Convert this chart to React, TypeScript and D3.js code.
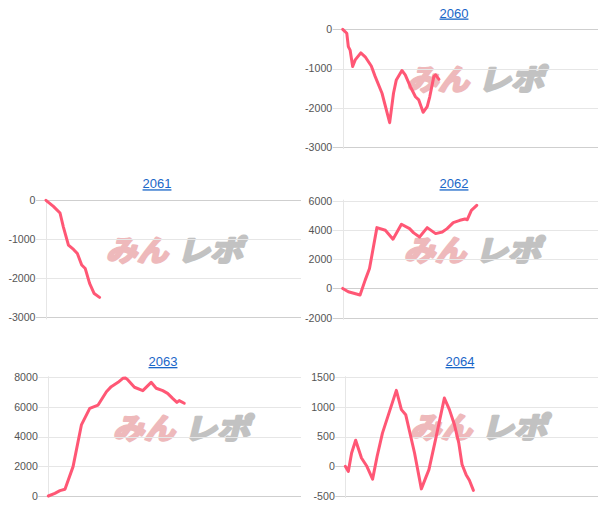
import { useRef, useEffect } from 'react';
import * as d3 from 'd3';

// machine numbers
const machines = ['2060', '2061', '2062', '2063', '2064'];

// progress through the day (share of the x axis) and coin difference
const x2060 = [0, 1.6, 2.2, 2.9, 3.9, 4.9, 7.1, 8.8, 11.2, 12.7, 15.4, 18.4, 19.9, 21.0, 23.2, 24.5, 26.5, 28.5, 29.8, 31.5, 33.1, 34.1, 35.7, 36.4, 37.7];
const y2060 = [0, -100, -440, -530, -950, -780, -600, -700, -935, -1200, -1630, -2380, -1630, -1290, -1050, -1160, -1460, -1720, -1800, -2115, -1970, -1720, -1200, -1160, -1275];

const x2061 = [0, 2.9, 5.5, 6.8, 8.8, 10.8, 12.3, 14.0, 15.4, 17.1, 18.9, 21.0];
const y2061 = [0, -155, -325, -680, -1150, -1260, -1365, -1660, -1750, -2130, -2390, -2490];

const x2062 = [0, 2.2, 6.8, 8.8, 10.5, 13.4, 16.7, 19.7, 23.0, 26.2, 27.8, 30.1, 33.1, 36.4, 39.0, 40.9, 43.3, 45.9, 47.9, 48.8, 50.4, 52.5];
const y2062 = [0, -230, -450, 570, 1360, 4160, 3980, 3370, 4390, 4090, 3800, 3520, 4160, 3750, 3860, 4090, 4500, 4660, 4750, 4700, 5340, 5680];

const x2063 = [0, 2.6, 4.6, 6.6, 9.8, 13.1, 16.4, 19.7, 23.0, 24.9, 27.6, 29.5, 30.6, 31.5, 34.1, 37.4, 40.7, 42.7, 45.3, 47.2, 49.2, 50.9, 51.8, 53.8];
const y2063 = [0, 180, 360, 450, 1980, 4790, 5910, 6130, 7030, 7370, 7660, 7930, 7950, 7820, 7330, 7100, 7660, 7260, 7100, 6920, 6580, 6310, 6430, 6250];

const x2064 = [0, 1.2, 2.5, 4.1, 6.4, 8.4, 10.8, 12.6, 14.7, 20.2, 22.2, 23.9, 27.4, 30.1, 31.8, 33.1, 35.7, 39.2, 41.2, 43.2, 44.9, 46.2, 47.8, 49.1, 50.7];
const y2064 = [0, -85, 225, 440, 140, 10, -215, 170, 560, 1280, 955, 870, 225, -380, -195, -55, 450, 1150, 955, 700, 395, 30, -140, -235, -405];

// y axis ticks per machine
const ticks2060 = [0, -1000, -2000, -3000];
const ticks2061 = [0, -1000, -2000, -3000];
const ticks2062 = [6000, 4000, 2000, 0, -2000];
const ticks2063 = [8000, 6000, 4000, 2000, 0];
const ticks2064 = [1500, 1000, 500, 0, -500];

const xs = [x2060, x2061, x2062, x2063, x2064];
const ys = [y2060, y2061, y2062, y2063, y2064];
const tickSets = [ticks2060, ticks2061, ticks2062, ticks2063, ticks2064];

// panel layout: plot box, title centre, watermark origin
const layout = [
  { left: 342.7, right: 598, top: 29.3, bottom: 147, titleX: 454, titleY: 17.5, wmX: 400, wmY: 90 },
  { left: 46, right: 301, top: 200.3, bottom: 317.3, titleX: 157, titleY: 188.3, wmX: 99, wmY: 261 },
  { left: 342.7, right: 598, top: 200.7, bottom: 317.7, titleX: 454, titleY: 188.3, wmX: 397, wmY: 261 },
  { left: 48.3, right: 301, top: 377.3, bottom: 496, titleX: 163, titleY: 366, wmX: 106, wmY: 439 },
  { left: 345.3, right: 598, top: 377.3, bottom: 496, titleX: 460, titleY: 366, wmX: 403, wmY: 438 },
];

const FONT = '"Liberation Sans", Arial, sans-serif';

export default function App() {
  const svgRef = useRef<SVGSVGElement>(null);

  useEffect(() => {
    const svg = d3.select(svgRef.current).html('');

    machines.forEach((name, i) => {
      const L = layout[i];
      const ticks = tickSets[i];
      const data = xs[i].map((x, j) => ({ x, y: ys[i][j] }));

      const x = d3.scaleLinear().domain([0, 100]).range([L.left, L.right]);
      const y = d3.scaleLinear()
        .domain([d3.min(ticks), d3.max(ticks)])
        .range([L.bottom, L.top]);

      const g = svg.append('g');

      // title link
      g.append('text')
        .attr('x', L.titleX)
        .attr('y', L.titleY)
        .attr('text-anchor', 'middle')
        .attr('font-family', FONT)
        .attr('font-size', 13)
        .attr('fill', '#1a66c8')
        .attr('text-decoration', 'underline')
        .text(name);

      // watermark logo (fake heavy weight with a stroke)
      const wm = g.append('g')
        .attr('transform', `translate(${L.wmX},${L.wmY}) skewX(-14)`)
        .attr('font-family', '"Noto Sans CJK JP", sans-serif')
        .attr('font-weight', 700)
        .attr('font-size', 29)
        .attr('stroke-width', 2.6)
        .attr('stroke-linejoin', 'round');
      wm.append('text')
        .attr('x', 7)
        .attr('textLength', 62)
        .attr('lengthAdjust', 'spacingAndGlyphs')
        .attr('fill', '#eeb9bb')
        .attr('stroke', '#eeb9bb')
        .text('みん');
      wm.append('text')
        .attr('x', 78)
        .attr('textLength', 66)
        .attr('lengthAdjust', 'spacingAndGlyphs')
        .attr('fill', '#c2c2c2')
        .attr('stroke', '#c2c2c2')
        .text('レポ');

      // gridlines
      g.selectAll('.grid')
        .data(ticks)
        .enter()
        .append('line')
        .attr('x1', L.left - 10)
        .attr('x2', L.right)
        .attr('y1', d => Math.round(y(d)) + 0.5)
        .attr('y2', d => Math.round(y(d)) + 0.5)
        .attr('stroke', d => (d === 0 || d === d3.min(ticks) ? '#cfcfcf' : '#e6e6e6'))
        .attr('stroke-width', 1);

      // left axis line
      g.append('line')
        .attr('x1', Math.round(L.left) + 0.5)
        .attr('x2', Math.round(L.left) + 0.5)
        .attr('y1', L.top - 1)
        .attr('y2', L.bottom + 2)
        .attr('stroke', '#e6e6e6');

      // tick labels
      g.selectAll('.lbl')
        .data(ticks)
        .enter()
        .append('text')
        .attr('x', L.left - 10.5)
        .attr('y', d => y(d))
        .attr('dy', '0.36em')
        .attr('text-anchor', 'end')
        .attr('font-family', FONT)
        .attr('font-size', 10.6)
        .attr('fill', '#555')
        .text(d => d);

      // series line
      const line = d3.line<{ x: number; y: number }>()
        .x(d => x(d.x))
        .y(d => y(d.y));

      g.append('path')
        .datum(data)
        .attr('fill', 'none')
        .attr('stroke', '#ff5775')
        .attr('stroke-width', 3)
        .attr('stroke-linejoin', 'round')
        .attr('stroke-linecap', 'round')
        .attr('d', line);
    });
  }, []);

  return (
    <div style={{ position: 'absolute', left: 0, top: 0, background: '#fff' }}>
      <svg ref={svgRef} width={604} height={528} />
    </div>
  );
}
